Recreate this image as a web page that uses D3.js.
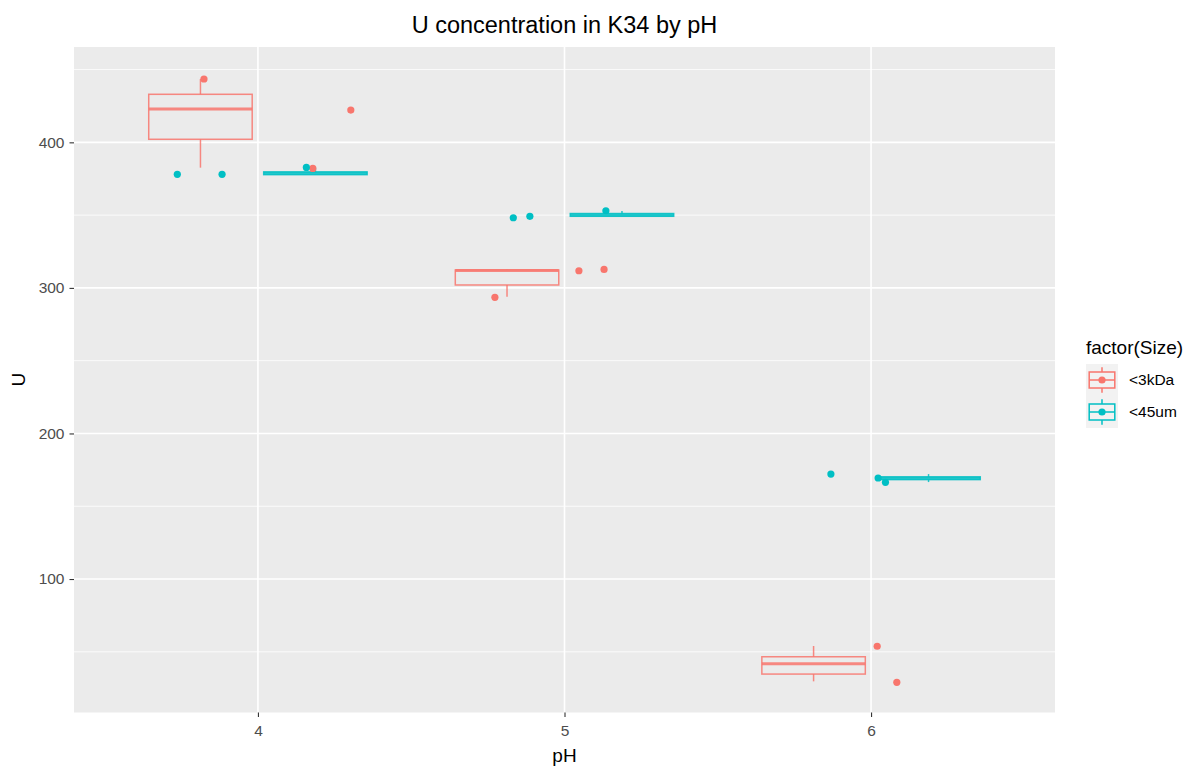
<!DOCTYPE html>
<html>
<head>
<meta charset="utf-8">
<script src="https://cdn.jsdelivr.net/npm/d3@7"></script>
<style>
  body { margin: 0; background: #ffffff; }
  text { font-family: "Liberation Sans", Arial, sans-serif; }
</style>
</head>
<body>
<div id="chart"></div>
<script>
// categories
const phLevels = ["4", "5", "6"];
const sizeLevels = ["<3kDa", "<45um"];
const sizeColors = ["#F8766D", "#00BFC4"];
const yTicks = [100, 200, 300, 400];
const yMinorTicks = [50, 150, 250, 350, 450];

// boxplot summaries, one per pH x Size
const boxPH = ["4", "4", "5", "5", "6", "6"];
const boxSize = ["<3kDa", "<45um", "<3kDa", "<45um", "<3kDa", "<45um"];
const boxMin = [382.6, 378.0, 293.9, 349.2, 29.7, 166.6];
const boxLower = [402.1, 377.8, 302.0, 349.2, 34.7, 168.3];
const boxMiddle = [422.9, 378.7, 312.0, 350.1, 41.8, 169.2];
const boxUpper = [433.0, 379.7, 312.3, 351.1, 46.6, 170.2];
const boxMax = [443.5, 382.8, 312.7, 352.9, 54.0, 172.1];

// jittered points (jitter = horizontal offset from the pH position)
const ptPH = ["4", "4", "4", "4", "4", "4", "5", "5", "5", "5", "5", "5", "6", "6", "6", "6", "6"];
const ptSize = ["<3kDa", "<3kDa", "<3kDa", "<45um", "<45um", "<45um",
                "<3kDa", "<3kDa", "<3kDa", "<45um", "<45um", "<45um",
                "<3kDa", "<3kDa", "<45um", "<45um", "<45um"];
const ptJitter = [-0.176, 0.303, 0.179, -0.263, -0.117, 0.158,
                  -0.227, 0.047, 0.129, -0.167, -0.113, 0.135,
                  0.020, 0.084, -0.131, 0.023, 0.047];
const ptU = [443.5, 422.2, 382.1, 378.0, 378.0, 382.8,
             293.5, 311.8, 312.7, 348.2, 349.2, 353.0,
             53.8, 29.0, 172.1, 169.4, 166.4];

// set the dimensions and margins of the graph
const W = 1202, H = 770;
let margin = { top: 47, right: 147, bottom: 57.5, left: 74 },
    width = W - margin.left - margin.right,
    height = H - margin.top - margin.bottom;

let svg = d3.select("#chart")
    .append("svg")
    .attr("width", W)
    .attr("height", H);

let g = svg.append("g")
    .attr("transform", "translate(" + margin.left + "," + margin.top + ")");

// discrete x: level positions 1..3, ggplot expansion of 0.6
var x = d3.scaleLinear()
    .domain([0.4, phLevels.length + 0.6])
    .range([0, width]);
var xPos = ph => phLevels.indexOf(ph) + 1;

var y = d3.scaleLinear()
    .domain([8.3, 465.5])
    .range([height, 0]);

var color = d3.scaleOrdinal().domain(sizeLevels).range(sizeColors);

// dodge for the two sizes
const dodge = 0.75;
const boxWidth = dodge / sizeLevels.length * 0.9;
var dodgeOffset = s => (sizeLevels.indexOf(s) - (sizeLevels.length - 1) / 2) * dodge / sizeLevels.length;

// panel background and grid
g.append("rect")
    .attr("width", width)
    .attr("height", height)
    .attr("fill", "#EBEBEB");

g.selectAll(".minor")
    .data(yMinorTicks.filter(v => v > y.domain()[0] && v < y.domain()[1]))
    .enter().append("line")
    .attr("x1", 0).attr("x2", width)
    .attr("y1", d => y(d)).attr("y2", d => y(d))
    .attr("stroke", "#ffffff")
    .attr("stroke-width", 0.8);

g.selectAll(".majorY")
    .data(yTicks)
    .enter().append("line")
    .attr("x1", 0).attr("x2", width)
    .attr("y1", d => y(d)).attr("y2", d => y(d))
    .attr("stroke", "#ffffff")
    .attr("stroke-width", 1.6);

g.selectAll(".majorX")
    .data(phLevels)
    .enter().append("line")
    .attr("x1", d => x(xPos(d))).attr("x2", d => x(xPos(d)))
    .attr("y1", 0).attr("y2", height)
    .attr("stroke", "#ffffff")
    .attr("stroke-width", 1.6);

// boxplots
let boxes = boxPH.map((ph, i) => ({
    ph: ph, size: boxSize[i], ymin: boxMin[i], lower: boxLower[i],
    middle: boxMiddle[i], upper: boxUpper[i], ymax: boxMax[i]
}));

let boxG = g.selectAll(".box")
    .data(boxes)
    .enter().append("g")
    .attr("stroke", d => color(d.size))
    .attr("stroke-opacity", 0.85)
    .attr("fill", "none");

var cx = d => x(xPos(d.ph) + dodgeOffset(d.size));

boxG.append("line")
    .attr("x1", cx).attr("x2", cx)
    .attr("y1", d => y(d.upper)).attr("y2", d => y(d.ymax))
    .attr("stroke-width", 1.5);
boxG.append("line")
    .attr("x1", cx).attr("x2", cx)
    .attr("y1", d => y(d.lower)).attr("y2", d => y(d.ymin))
    .attr("stroke-width", 1.5);
boxG.append("rect")
    .attr("x", d => x(xPos(d.ph) + dodgeOffset(d.size) - boxWidth / 2))
    .attr("width", x(boxWidth) - x(0))
    .attr("y", d => y(d.upper))
    .attr("height", d => y(d.lower) - y(d.upper))
    .attr("stroke-width", 1.5);
boxG.append("line")
    .attr("x1", d => x(xPos(d.ph) + dodgeOffset(d.size) - boxWidth / 2))
    .attr("x2", d => x(xPos(d.ph) + dodgeOffset(d.size) + boxWidth / 2))
    .attr("y1", d => y(d.middle)).attr("y2", d => y(d.middle))
    .attr("stroke-width", 3);

// jittered points
let points = ptPH.map((ph, i) => ({ ph: ph, size: ptSize[i], jit: ptJitter[i], u: ptU[i] }));
g.selectAll(".pt")
    .data(points)
    .enter().append("circle")
    .attr("cx", d => x(xPos(d.ph) + d.jit))
    .attr("cy", d => y(d.u))
    .attr("r", 3.6)
    .attr("fill", d => color(d.size));

// axes
let yAxis = g.append("g")
    .call(d3.axisLeft(y).tickValues(yTicks).tickSize(4.5).tickPadding(5));
let xAxis = g.append("g")
    .attr("transform", "translate(0," + height + ")")
    .call(d3.axisBottom(x).tickValues(phLevels.map(xPos))
        .tickFormat(i => phLevels[i - 1]).tickSize(4.5).tickPadding(8));
[xAxis, yAxis].forEach(a => {
    a.select(".domain").remove();
    a.selectAll(".tick line").attr("stroke", "#333333").attr("stroke-width", 1.1);
    a.selectAll(".tick text")
        .attr("fill", "#4D4D4D")
        .style("font-size", "15.5px")
        .style("font-family", "'Liberation Sans', Arial, sans-serif");
});

// title and axis labels
svg.append("text")
    .attr("x", margin.left + width / 2)
    .attr("y", 33)
    .style("text-anchor", "middle")
    .style("font-size", "23.5px")
    .attr("fill", "#000000")
    .text("U concentration in K34 by pH");

svg.append("text")
    .attr("x", margin.left + width / 2)
    .attr("y", 762)
    .style("text-anchor", "middle")
    .style("font-size", "19px")
    .text("pH");

svg.append("text")
    .attr("transform", "translate(25," + (margin.top + height / 2) + ") rotate(-90)")
    .style("text-anchor", "middle")
    .style("font-size", "19px")
    .text("U");

// legend
const keySize = 32;
let legend = svg.append("g")
    .attr("transform", "translate(1086,364)");

legend.append("text")
    .attr("x", 0)
    .attr("y", -10)
    .style("font-size", "19px")
    .text("factor(Size)");

let key = legend.selectAll(".key")
    .data(sizeLevels)
    .enter().append("g")
    .attr("transform", (d, i) => "translate(0," + i * keySize + ")");

key.append("rect")
    .attr("width", keySize).attr("height", keySize)
    .attr("fill", "#F2F2F2");
key.append("line")
    .attr("x1", keySize / 2).attr("x2", keySize / 2)
    .attr("y1", keySize * 0.1).attr("y2", keySize * 0.9)
    .attr("stroke", d => color(d)).attr("stroke-width", 1.5);
key.append("rect")
    .attr("x", keySize * 0.1).attr("y", keySize * 0.25)
    .attr("width", keySize * 0.8).attr("height", keySize * 0.5)
    .attr("fill", "#F2F2F2")
    .attr("stroke", d => color(d)).attr("stroke-width", 1.5);
key.append("line")
    .attr("x1", keySize * 0.1).attr("x2", keySize * 0.9)
    .attr("y1", keySize / 2).attr("y2", keySize / 2)
    .attr("stroke", d => color(d)).attr("stroke-width", 1.5);
key.append("circle")
    .attr("cx", keySize / 2).attr("cy", keySize / 2)
    .attr("r", 3.6)
    .attr("fill", d => color(d));
key.append("text")
    .attr("x", keySize + 11)
    .attr("y", keySize / 2)
    .attr("dy", "0.35em")
    .style("font-size", "15.5px")
    .text(d => d);
</script>
</body>
</html>
